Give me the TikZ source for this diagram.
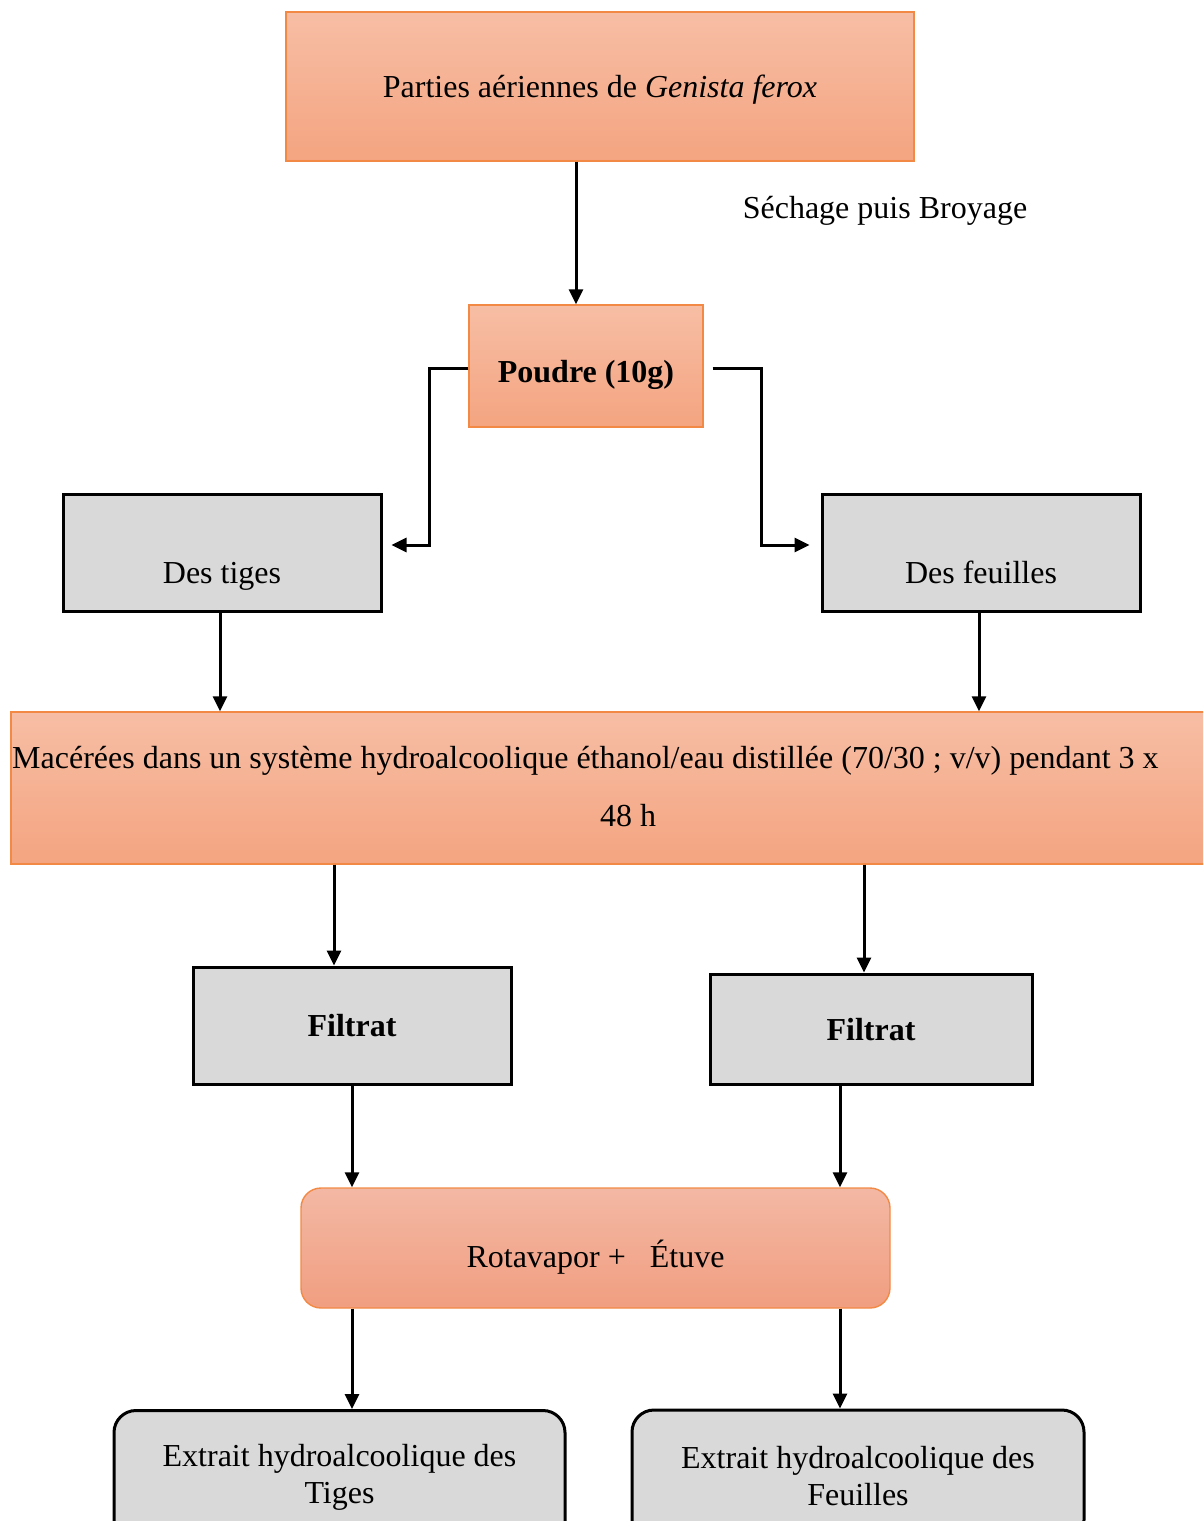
\documentclass[tikz,border=0pt]{standalone}
\usepackage{fontspec}
\setmainfont{Liberation Serif}
\usetikzlibrary{arrows.meta,calc}
\definecolor{boxorange}{HTML}{F28A45}
\definecolor{otop}{HTML}{F7BEA5}
\definecolor{obot}{HTML}{F4A480}
\definecolor{rtop}{HTML}{F3B8A4}
\definecolor{rbot}{HTML}{F19E80}
\definecolor{gfill}{HTML}{D9D9D9}
\begin{document}
\begin{tikzpicture}[x=1pt,y=-1pt,
  txt/.style={font=\fontsize{32}{37}\selectfont},
  orangebox/.style={draw=boxorange,line width=1.4pt,top color=otop,bottom color=obot,txt,inner sep=0pt},
  graybox/.style={draw=black,line width=3pt,fill=gfill,txt,inner sep=0pt},
  arr/.style={line width=3pt,-{Triangle[length=15pt,width=14pt]}},
]
\useasboundingbox (0,0) rectangle (1203,1521);
\clip (0,0) rectangle (1203,1521);

% top
\node[orangebox,minimum width=628pt,minimum height=149pt,text height=21pt,text depth=0pt] (top) at (600,86.5) {Parties aériennes de \textit{Genista ferox}};
\node[txt,inner sep=0pt,anchor=base] (sech) at (885,218) {Séchage puis Broyage};

\node[orangebox,minimum width=234pt,minimum height=122pt,text height=32pt,text depth=0pt] (poudre) at (586,366) {\textbf{Poudre (10g)}};

\node[graybox,minimum width=318pt,minimum height=117pt,text height=62pt,text depth=0pt] (tiges) at (222,552.5) {Des tiges};
\node[graybox,minimum width=318pt,minimum height=117pt,text height=62pt,text depth=0pt] (feuilles) at (981,552.5) {Des feuilles};

\node[orangebox,minimum width=1234pt,minimum height=152pt] (mac) at (628,788) {};
\node[txt,inner sep=0pt,anchor=base west] (mac1) at (12,768) {Macérées dans un système hydroalcoolique éthanol/eau distillée (70/30 ; v/v) pendant 3 x};
\node[txt,inner sep=0pt,anchor=base] (mac2) at (628,826) {48 h};

\node[graybox,minimum width=318pt,minimum height=117pt,text height=22pt,text depth=0pt] (fil1) at (352,1025.5) {\textbf{Filtrat}};
\node[graybox,minimum width=322pt,minimum height=110pt,text height=22pt,text depth=0pt] (fil2) at (871,1029) {\textbf{Filtrat}};

\node[draw=boxorange,line width=1.4pt,top color=rtop,bottom color=rbot,txt,inner sep=0pt,rounded corners=20pt,minimum width=589pt,minimum height=120pt,text height=38pt,text depth=0pt] (rota) at (595.5,1248) {Rotavapor +\ \ \ Étuve};

\node[graybox,rounded corners=22pt,minimum width=451pt,minimum height=134pt,align=center] (ext1) at (339.5,1477.5) {Extrait hydroalcoolique des\\Tiges};
\node[graybox,rounded corners=22pt,minimum width=452pt,minimum height=132pt,align=center] (ext2) at (858,1476) {Extrait hydroalcoolique des\\Feuilles};

% connectors
\draw[arr] (top.south -| 576,0) -- (poudre.north -| 576,0);
\draw[arr] ([yshift=-2pt]poudre.west) -| (429,545) -- ([xshift=9pt,yshift=7.5pt]tiges.east);
\draw[arr] ([xshift=9pt,yshift=-2pt]poudre.east) -| (761,545) -- ([xshift=-11pt,yshift=7.5pt]feuilles.west);
\draw[arr] (tiges.south -| 220,0) -- (mac.north -| 220,0);
\draw[arr] (feuilles.south -| 979,0) -- (mac.north -| 979,0);
\draw[arr] (mac.south -| 334,0) -- (fil1.north -| 334,0);
\draw[arr] (mac.south -| 864,0) -- (fil2.north -| 864,0);
\draw[arr] (fil1.south -| 352,0) -- (rota.north -| 352,0);
\draw[arr] (fil2.south -| 840,0) -- (rota.north -| 840,0);
\draw[arr] (rota.south -| 352,0) -- (ext1.north -| 352,0);
\draw[arr] (rota.south -| 840,0) -- (ext2.north -| 840,0);
\end{tikzpicture}
\end{document}
